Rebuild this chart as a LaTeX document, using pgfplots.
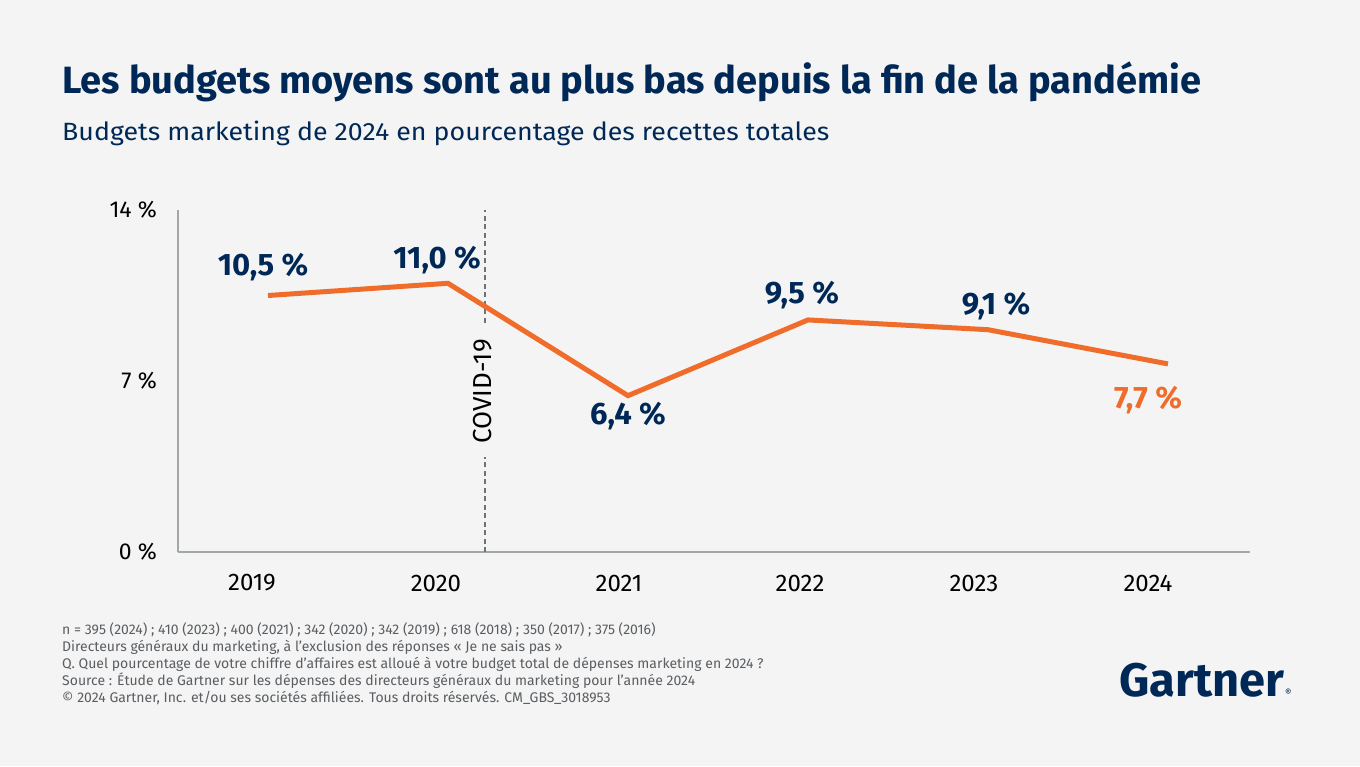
\documentclass[border=0pt]{standalone}
\usepackage{pgfplots}
\pgfplotsset{compat=1.18}
\usepackage{fontspec}
\setmainfont{Fira Sans}
\definecolor{bg}{HTML}{F4F4F4}
\definecolor{navy}{HTML}{002856}
\definecolor{orng}{HTML}{EF6C2B}
\definecolor{axgray}{HTML}{A2A7AA}
\definecolor{dashgray}{HTML}{6D7275}
\definecolor{notegray}{HTML}{5A5E62}
\newcommand\vl{\fontsize{31}{33}\selectfont\bfseries}
\begin{document}
\begin{tikzpicture}
\fill[bg] (0pt,0pt) rectangle (1360pt,-766pt);
% title and subtitle
\node[anchor=base west, inner sep=0pt, text=navy, font=\fontsize{38}{42}\selectfont\bfseries] at (62pt,-93pt) {Les budgets moyens sont au plus bas depuis la fin de la pandémie};
\node[anchor=base west, inner sep=0pt, text=navy, xscale=1.07, font=\fontsize{25}{28}\selectfont] at (62pt,-140pt) {Budgets marketing de 2024 en pourcentage des recettes totales};
\begin{axis}[
  at={(178pt,-552pt)}, anchor=south west,
  scale only axis, width=1072pt, height=342pt,
  xmin=-0.5, xmax=5.456, ymin=0, ymax=14,
  axis lines=left,
  axis line style={draw=axgray, line width=1.3pt, -},
  major tick length=0pt,
  xtick={-0.089,0.933,1.95,2.956,3.922,4.889},
  xticklabels={2019,2020,2021,2022,2023,2024},
  ytick={0,7,14},
  yticklabels={0 \%,7 \%,14 \%},
  /pgf/number format/assume math mode=true,
  xticklabel style={anchor=center, yshift=-31pt, font=\fontsize{24}{26}\selectfont, text=black},
  yticklabel style={anchor=east, inner sep=0pt, xshift=-21pt, font=\fontsize{23}{25}\selectfont, text=black},
  clip=false,
]
\draw[dashgray, line width=1.5pt, dash pattern=on 5pt off 3.5pt] (axis cs:1.206,0) -- (axis cs:1.206,14);
\node[rotate=90, fill=bg, inner xsep=13pt, inner ysep=1pt, font=\fontsize{26}{28}\selectfont, text=black] at (axis cs:1.19,6.57) {COVID-19};
\addplot[orng, line width=5pt, line join=miter] coordinates {
 (0,10.5) (1,11.0) (2,6.4) (3,9.5) (4,9.1) (5,7.7)
};
\node[text=navy, font=\vl, xshift=-5pt, yshift=28pt] at (axis cs:0,10.5) {10,5 \%};
\node[text=navy, font=\vl, xshift=-11pt, yshift=23pt] at (axis cs:1,11.0) {11,0 \%};
\node[text=navy, font=\vl, xshift=0pt, yshift=-20pt] at (axis cs:2,6.4) {6,4 \%};
\node[text=navy, font=\vl, xshift=-6pt, yshift=25pt] at (axis cs:3,9.5) {9,5 \%};
\node[text=navy, font=\vl, xshift=8pt, yshift=24pt] at (axis cs:4,9.1) {9,1 \%};
\node[text=orng, font=\vl, xshift=-20pt, yshift=-36pt] at (axis cs:5,7.7) {7,7 \%};
\end{axis}
% footnotes
\node[anchor=north west, inner sep=0pt, align=left, text=notegray, font=\fontsize{14}{17}\selectfont] at (62pt,-622pt) {n = 395 (2024) ; 410 (2023) ; 400 (2021) ; 342 (2020) ; 342 (2019) ; 618 (2018) ; 350 (2017) ; 375 (2016)\\
Directeurs généraux du marketing, à l’exclusion des réponses « Je ne sais pas »\\
Q. Quel pourcentage de votre chiffre d’affaires est alloué à votre budget total de dépenses marketing en 2024 ?\\
Source : Étude de Gartner sur les dépenses des directeurs généraux du marketing pour l’année 2024\\
© 2024 Gartner, Inc. et/ou ses sociétés affiliées. Tous droits réservés. CM\_GBS\_3018953};
% logo
\node[anchor=base west, inner sep=0pt, text=navy, font=\fontsize{47}{49}\selectfont\bfseries] at (1119pt,-696pt) {Gartner\kern1pt{\fontsize{10}{10}\selectfont\mdseries ®}};
\end{tikzpicture}
\end{document}
